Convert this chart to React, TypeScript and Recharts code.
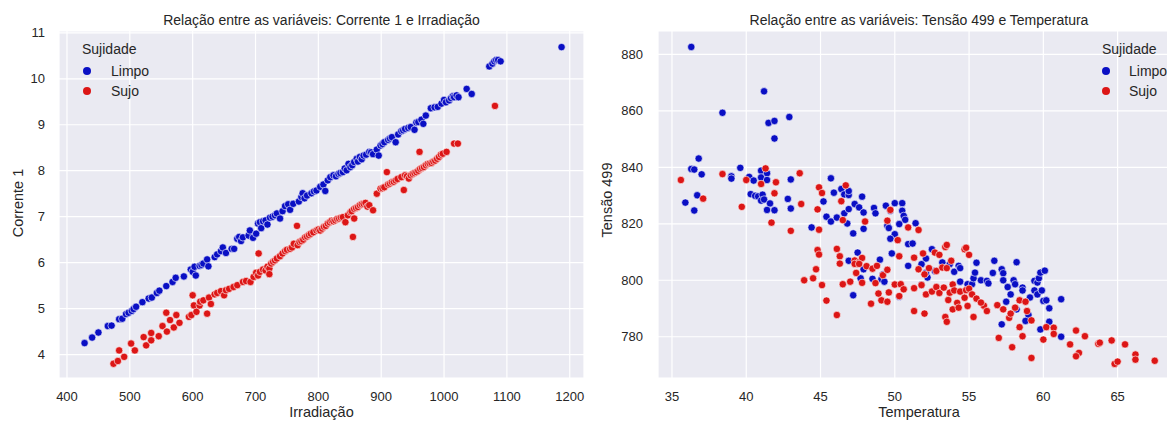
import React from 'react';
import {
  ScatterChart,
  Scatter,
  XAxis,
  YAxis,
  CartesianGrid,
  Legend,
  Label,
} from 'recharts';

type Pt = [number, number];

// Corrente 1 x Irradiação
const correnteLimpo: Pt[] = [
  [428, 4.25], [440, 4.37], [450, 4.48], [465, 4.62], [471, 4.63], [483, 4.77], [488, 4.78], [494, 4.88],
  [498, 4.91], [503, 4.95], [506, 4.99], [510, 5.04], [520, 5.14], [530, 5.22], [535, 5.24], [543, 5.34],
  [547, 5.39], [558, 5.49], [568, 5.58], [573, 5.67], [586, 5.7], [597, 5.85], [600, 5.8], [603, 5.91],
  [605, 5.72], [611, 5.93], [614, 5.95], [617, 5.98], [623, 6.07], [625, 5.92], [635, 6.12], [639, 6.18],
  [645, 6.25], [648, 6.33], [653, 6.21], [662, 6.3], [666, 6.3], [671, 6.52], [674, 6.56], [677, 6.47],
  [680, 6.55], [689, 6.59], [691, 6.7], [696, 6.54], [701, 6.63], [704, 6.85], [707, 6.88], [709, 6.75],
  [712, 6.9], [716, 6.92], [719, 6.83], [723, 6.98], [727, 7.0], [731, 7.03], [734, 7.07], [739, 6.96],
  [743, 7.12], [747, 7.23], [752, 7.27], [755, 7.15], [760, 7.28], [769, 7.33], [773, 7.43], [775, 7.51],
  [778, 7.4], [782, 7.46], [789, 7.51], [793, 7.55], [797, 7.57], [803, 7.65], [808, 7.7], [811, 7.56],
  [815, 7.79], [819, 7.86], [824, 7.9], [828, 7.88], [832, 7.93], [835, 7.95], [839, 7.97], [842, 8.05],
  [845, 8.01], [848, 8.15], [851, 8.08], [854, 8.12], [857, 8.19], [861, 8.26], [863, 8.2], [866, 8.3],
  [869, 8.25], [872, 8.33], [876, 8.35], [881, 8.41], [884, 8.4], [887, 8.36], [893, 8.46], [896, 8.33],
  [899, 8.55], [902, 8.58], [905, 8.62], [911, 8.67], [914, 8.7], [917, 8.73], [923, 8.62], [927, 8.79],
  [932, 8.86], [935, 8.88], [938, 8.91], [943, 8.93], [947, 8.95], [953, 8.89], [956, 9.05], [959, 9.06],
  [964, 9.11], [967, 9.02], [971, 9.2], [979, 9.36], [985, 9.38], [990, 9.39], [996, 9.46], [1000, 9.54],
  [1003, 9.49], [1008, 9.53], [1011, 9.58], [1014, 9.62], [1016, 9.6], [1020, 9.64], [1023, 9.6],
  [1036, 9.78], [1044, 9.67], [1072, 10.27], [1077, 10.33], [1080, 10.38], [1083, 10.41], [1086, 10.41],
  [1090, 10.38], [1187, 10.69],
];

const correnteSujo: Pt[] = [
  [474, 3.8], [481, 3.86], [483, 4.09], [491, 3.95], [502, 4.24], [508, 4.09], [522, 4.38], [526, 4.2],
  [534, 4.47], [534, 4.31], [546, 4.4], [552, 4.62], [559, 4.5], [558, 4.91], [564, 4.75], [570, 4.59],
  [574, 4.86], [579, 4.69], [594, 4.82], [598, 4.86], [600, 5.29], [602, 5.07], [606, 4.93], [611, 5.07],
  [612, 5.15], [617, 5.18], [623, 4.89], [626, 5.24], [629, 5.1], [635, 5.31], [639, 5.34], [645, 5.38],
  [650, 5.29], [653, 5.4], [658, 5.43], [665, 5.47], [671, 5.51], [680, 5.58], [685, 5.6], [692, 5.58],
  [697, 5.69], [701, 5.78], [704, 5.72], [705, 6.2], [707, 5.8], [712, 5.85], [716, 5.83], [719, 5.91],
  [722, 5.87], [722, 5.75], [725, 5.98], [728, 6.02], [731, 6.05], [734, 6.09], [739, 6.14], [743, 6.2],
  [747, 6.25], [750, 6.28], [755, 6.3], [758, 6.33], [761, 6.41], [766, 6.8], [767, 6.38], [770, 6.45],
  [773, 6.47], [776, 6.5], [779, 6.55], [782, 6.57], [785, 6.6], [788, 6.63], [792, 6.66], [797, 6.7],
  [800, 6.72], [803, 6.7], [806, 6.74], [809, 6.78], [812, 6.8], [815, 6.85], [818, 6.88], [821, 6.91],
  [824, 6.9], [827, 6.92], [830, 6.95], [833, 6.96], [836, 6.98], [839, 6.99], [843, 6.88], [847, 7.03],
  [851, 7.1], [853, 7.12], [855, 6.56], [857, 7.17], [857, 6.96], [860, 7.19], [863, 7.21], [866, 7.25],
  [869, 7.27], [872, 7.28], [875, 7.3], [878, 7.22], [881, 7.25], [887, 7.14], [893, 7.5], [899, 7.61],
  [902, 7.62], [905, 7.64], [909, 7.97], [911, 7.7], [914, 7.72], [917, 7.75], [920, 7.76], [923, 7.79],
  [926, 7.82], [932, 7.86], [936, 7.58], [938, 7.9], [941, 7.88], [944, 7.83], [947, 7.9], [950, 7.93],
  [953, 7.95], [956, 7.97], [959, 8.0], [961, 8.41], [962, 8.04], [965, 8.06], [968, 8.08], [971, 8.12],
  [974, 8.15], [977, 8.16], [980, 8.17], [983, 8.2], [986, 8.22], [989, 8.26], [992, 8.3], [995, 8.35],
  [998, 8.37], [1004, 8.41], [1016, 8.59], [1022, 8.59], [1081, 9.41],
];

// Tensão 499 x Temperatura
const tensaoLimpo: Pt[] = [
  [36.3, 882.6], [41.2, 866.9], [38.4, 859.3], [41.5, 855.7], [41.9, 856.4], [42.9, 857.8], [41.9, 850.2],
  [36.8, 843.1], [36.3, 839.4], [36.5, 839.2], [37.0, 837.5], [39.6, 839.8], [39.0, 836.8], [39.0, 836.0],
  [40.2, 836.6], [40.5, 835.3], [41.0, 838.8], [41.0, 836.4], [41.4, 837.9], [41.4, 835.5], [43.0, 835.7],
  [36.7, 830.1], [35.9, 827.5], [36.5, 824.7], [40.3, 830.5], [40.6, 829.9], [40.8, 829.7], [41.1, 830.3],
  [41.0, 828.2], [41.2, 828.6], [41.6, 827.2], [41.4, 824.9], [41.9, 824.8], [42.8, 828.8], [43.0, 825.4],
  [45.7, 836.1], [44.4, 818.7], [45.2, 827.9], [45.9, 831.0], [46.4, 832.3], [46.6, 830.4], [46.9, 830.2],
  [46.9, 831.6], [47.3, 827.0], [47.6, 825.8], [47.8, 829.6], [47.9, 824.0], [45.4, 822.5], [45.7, 820.8],
  [46.1, 822.2], [46.6, 823.7], [46.9, 825.2], [46.8, 820.1], [47.2, 816.6], [47.9, 818.2], [48.6, 825.6],
  [48.7, 823.7], [49.4, 826.4], [49.7, 824.6], [50.0, 827.3], [50.5, 827.3], [50.5, 824.6], [50.6, 822.8],
  [50.7, 821.4], [49.5, 819.3], [49.6, 818.5], [50.3, 819.9], [50.0, 816.3], [49.7, 814.7], [49.8, 809.5],
  [47.5, 809.8], [46.9, 806.9], [47.9, 803.9], [47.7, 800.7], [47.2, 794.7], [48.5, 800.5], [49.1, 800.4],
  [49.0, 807.3], [49.2, 802.1], [49.3, 799.5], [50.3, 794.2], [50.9, 812.8], [50.9, 805.1], [51.4, 820.2],
  [51.2, 813.0], [52.5, 811.0], [52.1, 807.7], [51.8, 805.7], [52.2, 801.0], [52.1, 802.7], [51.8, 798.3],
  [52.7, 803.3], [53.2, 806.3], [53.7, 805.7], [54.0, 803.0], [54.3, 805.1], [54.4, 804.3], [54.4, 799.5],
  [54.9, 798.6], [55.2, 798.6], [55.3, 800.7], [55.4, 802.7], [55.5, 806.2], [55.8, 800.0], [56.2, 799.8],
  [56.3, 798.9], [56.6, 802.6], [56.7, 806.9], [57.2, 803.9], [57.3, 802.5], [57.3, 800.0], [57.6, 797.6],
  [58.0, 800.0], [58.2, 806.4], [58.1, 798.6], [58.6, 797.4], [58.6, 796.4], [59.4, 799.8], [59.6, 799.2],
  [59.7, 800.7], [59.8, 802.7], [60.1, 803.4], [59.4, 796.4], [59.6, 795.0], [59.9, 796.4], [60.0, 792.7],
  [60.2, 792.9], [60.4, 790.1], [60.4, 785.3], [61.2, 793.3], [61.2, 780.0], [59.8, 782.6], [59.1, 793.9],
  [57.2, 784.4], [58.2, 789.7], [59.0, 787.7], [58.8, 785.6], [57.5, 792.4], [57.8, 795.0],
];

const tensaoSujo: Pt[] = [
  [35.6, 835.5], [37.1, 828.9], [38.4, 837.6], [39.7, 826.0], [40.0, 835.5], [41.0, 834.1], [41.3, 839.6],
  [42.0, 834.7], [41.9, 830.8], [41.7, 820.4], [43.6, 837.9], [43.7, 827.0], [43.0, 817.5], [44.9, 832.9],
  [45.1, 830.9], [44.8, 825.1], [44.9, 817.9], [44.8, 810.7], [44.9, 809.1], [44.7, 803.9], [43.9, 800.0],
  [44.5, 800.7], [45.1, 798.3], [45.4, 792.8], [46.1, 787.7], [46.4, 828.0], [46.7, 833.6], [46.5, 821.3],
  [48.0, 820.8], [46.1, 811.1], [46.3, 808.5], [46.3, 805.9], [47.3, 807.0], [47.6, 806.4], [47.8, 807.9],
  [47.3, 805.8], [47.4, 802.6], [47.6, 805.8], [48.1, 805.0], [48.5, 804.1], [48.8, 805.1], [46.5, 798.6],
  [47.0, 799.5], [47.8, 799.1], [48.7, 799.0], [49.2, 801.8], [49.5, 803.7], [49.6, 795.7], [50.0, 798.5],
  [48.4, 791.7], [49.1, 792.9], [49.5, 792.4], [48.9, 795.3], [49.5, 821.1], [49.7, 824.9], [50.2, 814.2],
  [50.3, 808.5], [50.4, 798.6], [50.6, 796.8], [50.3, 794.4], [50.9, 818.7], [51.6, 817.8], [51.3, 808.0],
  [51.9, 809.5], [52.7, 809.8], [53.0, 809.0], [53.4, 811.8], [53.5, 812.5], [54.7, 811.0], [54.8, 811.5],
  [55.0, 809.0], [51.6, 803.9], [52.0, 802.1], [52.3, 804.3], [52.8, 803.3], [53.2, 804.5], [53.5, 804.3],
  [53.8, 806.9], [51.3, 797.2], [51.8, 798.3], [52.1, 795.0], [52.5, 796.0], [52.8, 797.6], [53.0, 795.5],
  [53.3, 797.4], [53.6, 793.0], [53.7, 795.6], [53.9, 798.5], [54.0, 796.4], [54.2, 792.0], [54.4, 796.0],
  [54.7, 793.8], [54.8, 796.5], [55.0, 797.0], [55.2, 795.0], [55.5, 793.5], [56.0, 791.0], [51.3, 789.1],
  [52.0, 788.2], [53.4, 787.0], [53.5, 785.3], [53.9, 789.7], [54.3, 790.3], [54.9, 790.9], [55.3, 787.0],
  [55.8, 792.1], [56.2, 789.1], [56.9, 791.2], [57.3, 789.7], [57.7, 786.7], [57.8, 788.2], [58.1, 790.3],
  [58.4, 792.9], [58.8, 792.4], [58.9, 789.1], [59.2, 785.8], [58.4, 783.4], [57.0, 779.6], [57.9, 776.3],
  [58.6, 780.2], [59.2, 772.5], [60.0, 779.0], [60.2, 783.4], [60.7, 783.2], [60.7, 781.0], [61.8, 777.3],
  [62.2, 782.2], [62.4, 774.3], [62.8, 780.2], [62.2, 773.1], [63.7, 777.5], [63.8, 777.9], [64.6, 778.7],
  [65.5, 777.3], [64.8, 770.4], [65.0, 771.2], [66.2, 773.7], [66.2, 771.9], [67.5, 771.5],
];

const irradiacaoTicks = [400, 500, 600, 700, 800, 900, 1000, 1100, 1200];
const correnteTicks = [4, 5, 6, 7, 8, 9, 10, 11];
const temperaturaTicks = [35, 40, 45, 50, 55, 60, 65];
const tensaoTicks = [780, 800, 820, 840, 860, 880];

const BLUE = '#0a0fc4';
const RED = '#dc1616';
const TEXT = '#262626';
const FONT = '"Liberation Sans", Arial, sans-serif';

const toRows = (pts: Pt[]) => pts.map(([x, y]) => ({ x, y }));

const dot = (color: string) => (props: any) => (
  <circle cx={props.cx} cy={props.cy} r={3.7} fill={color} stroke="#ffffff" strokeWidth={0.6} />
);

const tickStyle = { fill: TEXT, fontSize: 13, fontFamily: FONT };

interface LegendPos {
  titleX: number;
  dotX: number;
  textX: number;
}

const SujidadeLegend = ({ payload, pos }: { payload?: any[]; pos: LegendPos }) => (
  <div style={{ position: 'relative', width: 220, height: 110, fontFamily: FONT, color: TEXT, fontSize: 14 }}>
    <div style={{ position: 'absolute', left: pos.titleX, top: 40, lineHeight: '18px', whiteSpace: 'nowrap' }}>Sujidade</div>
    {(payload || []).map((entry, i) => (
      <React.Fragment key={entry.value}>
        <div
          style={{
            position: 'absolute',
            left: pos.dotX - 4,
            top: 71 + i * 19.5 - 4,
            width: 8,
            height: 8,
            borderRadius: 4,
            background: entry.color,
          }}
        />
        <div style={{ position: 'absolute', left: pos.textX, top: 62 + i * 19.5, lineHeight: '18px', whiteSpace: 'nowrap' }}>
          {entry.value}
        </div>
      </React.Fragment>
    ))}
  </div>
);

const yLabel = (text: string, x: number, y: number) => () => (
  <text
    x={x}
    y={y}
    transform={`rotate(-90 ${x} ${y})`}
    textAnchor="middle"
    dominantBaseline="central"
    fill={TEXT}
    fontSize={14.5}
    fontFamily={FONT}
  >
    {text}
  </text>
);

const titleStyle: React.CSSProperties = {
  position: 'absolute',
  top: 11,
  transform: 'translateX(-50%)',
  whiteSpace: 'nowrap',
  fontFamily: FONT,
  fontSize: 14,
  color: TEXT,
  lineHeight: '18px',
};

export default function App() {
  return (
    <div style={{ position: 'fixed', left: 0, top: 0, width: 1167, height: 421, overflow: 'hidden', background: '#ffffff' }}>
      <div style={{ position: 'absolute', left: 0, top: 0 }}>
        <ScatterChart width={590} height={421} margin={{ top: 31, right: 6, bottom: 0, left: 0 }}>
          <CartesianGrid fill="#eaeaf2" stroke="#ffffff" strokeWidth={1.2} />
          <XAxis
            type="number"
            dataKey="x"
            domain={[387.3, 1222.7]}
            ticks={irradiacaoTicks}
            height={43}
            axisLine={false}
            tickLine={false}
            tickSize={0}
            tickMargin={14}
            tick={tickStyle}
          >
            <Label value="Irradiação" position="insideBottom" offset={4} fill={TEXT} fontSize={14.5} fontFamily={FONT} />
          </XAxis>
          <YAxis
            type="number"
            dataKey="y"
            domain={[3.49, 11.04]}
            ticks={correnteTicks}
            width={59}
            axisLine={false}
            tickLine={false}
            tickSize={0}
            tickMargin={14}
            tick={tickStyle}
          >
            <Label content={yLabel('Corrente 1', 18, 203)} />
          </YAxis>
          <Legend
            layout="horizontal"
            align="center"
            verticalAlign="middle"
            wrapperStyle={{ left: 0, top: 0, width: 220, height: 110 }}
            content={(p: any) => <SujidadeLegend payload={p.payload} pos={{ titleX: 82, dotX: 87, textX: 111 }} />}
          />
          <Scatter name="Limpo" data={toRows(correnteLimpo)} fill={BLUE} shape={dot(BLUE)} isAnimationActive={false} />
          <Scatter name="Sujo" data={toRows(correnteSujo)} fill={RED} shape={dot(RED)} isAnimationActive={false} />
        </ScatterChart>
        <div style={{ ...titleStyle, left: 321.5 }}>Relação entre as variáveis: Corrente 1 e Irradiação</div>
      </div>

      <div style={{ position: 'absolute', left: 590, top: 0 }}>
        <ScatterChart width={595} height={421} margin={{ top: 31, right: 5, bottom: 0, left: 0 }}>
          <CartesianGrid fill="#eaeaf2" stroke="#ffffff" strokeWidth={1.2} />
          <XAxis
            type="number"
            dataKey="x"
            domain={[34.06, 69.2]}
            ticks={temperaturaTicks}
            height={43}
            axisLine={false}
            tickLine={false}
            tickSize={0}
            tickMargin={14}
            tick={tickStyle}
          >
            <Label value="Temperatura" position="insideBottom" offset={4} fill={TEXT} fontSize={14.5} fontFamily={FONT} />
          </XAxis>
          <YAxis
            type="number"
            dataKey="y"
            domain={[765.4, 888.25]}
            ticks={tensaoTicks}
            width={68}
            axisLine={false}
            tickLine={false}
            tickSize={0}
            tickMargin={15}
            tick={tickStyle}
          >
            <Label content={yLabel('Tensão 499', 17, 200)} />
          </YAxis>
          <Legend
            layout="horizontal"
            align="center"
            verticalAlign="middle"
            wrapperStyle={{ left: 420, top: 0, width: 220, height: 110 }}
            content={(p: any) => <SujidadeLegend payload={p.payload} pos={{ titleX: 92, dotX: 96, textX: 119 }} />}
          />
          <Scatter name="Limpo" data={toRows(tensaoLimpo)} fill={BLUE} shape={dot(BLUE)} isAnimationActive={false} />
          <Scatter name="Sujo" data={toRows(tensaoSujo)} fill={RED} shape={dot(RED)} isAnimationActive={false} />
        </ScatterChart>
        <div style={{ ...titleStyle, left: 329 }}>Relação entre as variáveis: Tensão 499 e Temperatura</div>
      </div>
    </div>
  );
}
